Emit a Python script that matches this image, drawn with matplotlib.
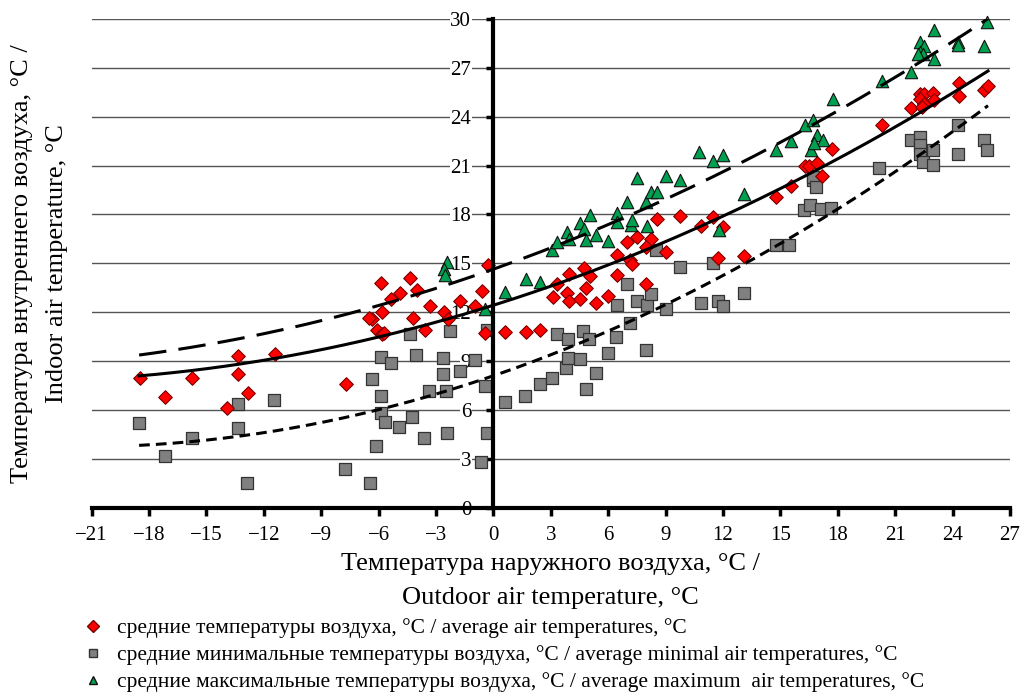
import numpy as np
import matplotlib
matplotlib.use("Agg")
import matplotlib.pyplot as plt
from matplotlib.lines import Line2D

# ---------------- data ----------------
avg_x = [-18.48, -17.17, -15.78, -13.33, -13.33, -12.81, -13.94, -11.41, -7.71, -5.86,
         -6.35, -6.50, -6.09, -5.83, -5.70, -5.83, -5.34, -4.90, -4.35, -4.00,
         -4.20, -3.60, -3.33, -2.60, -2.39, -1.73, -0.94, -0.59, -0.28, -0.42,
         0.58, 1.68, 2.42, 3.10, 3.33, 3.86, 3.94, 3.94, 4.50, 4.73,
         4.85, 5.03, 5.38, 6.00, 6.44, 6.44, 7.00, 7.14, 7.23, 7.52,
         7.99, 8.22, 7.99, 8.53, 9.04, 9.74, 10.84, 11.45, 12.02, 11.76,
         13.11, 14.76, 15.55, 16.28, 16.50, 16.90, 17.15, 17.70, 20.30, 21.80,
         22.27, 22.50, 22.32, 22.53, 22.39, 22.97, 23.02, 24.31, 24.31, 25.64,
         25.85]
avg_y = [7.93, 6.80, 7.93, 9.29, 8.19, 7.04, 6.12, 9.42, 7.56, 13.79,
         11.55, 11.65, 10.93, 10.64, 10.72, 12.01, 12.83, 13.18, 14.10, 13.34,
         11.61, 10.89, 12.38, 12.01, 11.55, 12.69, 12.36, 13.30, 14.88, 10.69,
         10.79, 10.79, 10.89, 12.93, 13.71, 13.18, 12.69, 14.31, 12.83, 14.71,
         13.45, 14.20, 12.53, 12.99, 15.53, 14.26, 16.31, 15.18, 14.98, 16.61,
         13.75, 16.51, 16.00, 17.74, 15.69, 17.88, 17.27, 17.84, 17.23, 15.35,
         15.43, 19.07, 19.72, 20.95, 21.00, 21.18, 20.34, 22.04, 23.51, 24.55,
         25.41, 25.41, 25.10, 24.80, 24.59, 25.45, 25.04, 26.06, 25.25, 25.66,
         25.86]

min_x = [-18.52, -17.17, -15.78, -13.37, -13.33, -12.86, -11.45, -7.75, -6.44, -6.35,
         -6.13, -5.86, -5.86, -5.86, -5.65, -5.34, -4.94, -4.38, -4.24, -4.03,
         -3.61, -3.39, -2.63, -2.63, -2.46, -2.42, -2.29, -1.73, -0.94, -0.45,
         -0.33, -0.33, -0.63, 0.58, 1.64, 2.42, 3.07, 3.30, 3.81, 3.91,
         3.91, 4.50, 4.70, 4.82, 4.99, 5.34, 6.00, 6.42, 6.44, 6.96,
         7.14, 7.52, 7.99, 8.01, 8.22, 8.48, 9.04, 9.74, 10.84, 11.74,
         12.02, 13.10, 11.45, 14.76, 15.46, 16.25, 16.56, 17.12, 17.64, 16.68,
         16.68, 16.86, 20.17, 21.80, 22.27, 22.27, 22.32, 22.44, 22.97, 22.97,
         24.28, 24.28, 25.64, 25.81]
min_y = [5.20, 3.16, 4.24, 6.35, 4.90, 1.52, 6.60, 2.34, 1.52, 7.87,
         3.77, 9.25, 6.84, 5.82, 5.27, 8.89, 4.92, 10.64, 5.57, 9.36,
         4.28, 7.17, 9.21, 8.19, 7.17, 4.59, 10.85, 8.37, 9.05, 7.47,
         10.93, 4.59, 2.81, 6.49, 6.84, 7.58, 7.93, 10.63, 8.54, 9.21,
         10.32, 9.15, 10.83, 7.27, 10.32, 8.27, 9.50, 10.48, 12.42, 13.75,
         11.30, 12.67, 9.66, 12.42, 13.14, 15.84, 12.16, 14.77, 12.53, 12.69,
         12.36, 13.18, 15.02, 16.15, 16.15, 18.25, 18.56, 18.36, 18.42, 20.09,
         20.30, 19.68, 20.87, 22.55, 22.75, 22.24, 21.73, 21.22, 21.98, 21.01,
         23.47, 21.73, 22.55, 21.98]

max_x = [-2.42, -2.60, -2.55, -0.42, 0.58, 1.68, 2.42, 3.07, 3.33, 3.86,
         3.94, 4.50, 4.73, 4.82, 5.03, 5.38, 6.00, 6.44, 6.44, 7.00,
         7.17, 7.26, 7.52, 8.01, 7.99, 8.22, 8.57, 9.04, 9.74, 10.75,
         11.45, 12.02, 13.11, 11.80, 14.76, 15.55, 16.28, 16.68, 16.91, 17.20,
         16.60, 16.74, 17.73, 20.30, 21.80, 22.27, 22.50, 22.32, 22.44, 22.21,
         23.02, 23.02, 24.28, 24.28, 25.64, 25.81]
max_y = [15.08, 14.67, 14.26, 12.16, 13.24, 14.06, 13.85, 15.84, 16.31, 16.92,
         16.51, 17.47, 17.13, 16.45, 17.94, 16.76, 16.37, 18.09, 17.53, 18.76,
         17.33, 17.68, 20.23, 17.27, 18.76, 19.37, 19.37, 20.34, 20.13, 21.83,
         21.26, 21.67, 19.28, 17.07, 21.93, 22.48, 23.51, 23.82, 22.85, 22.59,
         21.98, 22.38, 25.10, 26.17, 26.74, 28.58, 28.37, 27.96, 27.86, 27.86,
         27.56, 29.34, 28.58, 28.40, 28.37, 29.80]

x_ticks = list(range(-21, 28, 3))
y_ticks = list(range(0, 31, 3))

labels = ["средние температуры воздуха, °C / average air temperatures, °C",
          "средние минимальные температуры воздуха, °C / average minimal air temperatures, °C",
          "средние максимальные температуры воздуха, °C / average maximum  air temperatures, °C"]
xlabel = "Температура наружного воздуха, °C /\nOutdoor air temperature, °C"
ylabel = "Температура внутреннего воздуха, °C /\nIndoor air temperature, °C"

# ---------------- figure ----------------
plt.rcParams['font.family'] = ['Liberation Serif', 'DejaVu Serif']
fig = plt.figure(figsize=(10.23, 6.92), dpi=100)
ax = fig.add_axes([0.0896, 0.2666, 0.8977, 0.706])
ax.set_xlim(-21, 27)
ax.set_ylim(0, 30)

for s in ['top', 'right']:
    ax.spines[s].set_visible(False)
ax.spines['left'].set_position(('data', 0))
ax.spines['left'].set_linewidth(3)
ax.spines['bottom'].set_linewidth(3)
ax.spines['left'].set_zorder(5)
ax.spines['bottom'].set_zorder(5)

ax.set_xticks(x_ticks)
ax.set_yticks(y_ticks)
ax.tick_params(axis='x', direction='out', length=6, width=2.5, labelsize=15, pad=7)
ax.tick_params(axis='y', direction='out', length=5, width=2.5, labelsize=15, pad=11)
ax.yaxis.grid(True, color='#555555', linewidth=1)
ax.set_axisbelow(True)

mk_avg = dict(marker='D', s=48, facecolor='#FF0000', edgecolor='#7a0000', linewidths=0.8, zorder=3)
mk_min = dict(marker='s', s=70, facecolor='#808080', edgecolor='#333333', linewidths=0.9, zorder=3)
mk_max = dict(marker='^', s=80, facecolor='#00A050', edgecolor='#111111', linewidths=0.8, zorder=3)

ax.scatter(min_x, min_y, clip_on=False, **mk_min)
ax.scatter(avg_x, avg_y, clip_on=False, **mk_avg)
ax.scatter(max_x, max_y, clip_on=False, **mk_max)

# polynomial (2nd order) trend lines fitted to the data
all_x = np.array(avg_x + min_x + max_x)
xx = np.linspace(all_x.min(), all_x.max(), 200)
for xs, ys, style in [(avg_x, avg_y, dict(ls='-')),
                      (max_x, max_y, dict(ls=(0, (9, 4)))),
                      (min_x, min_y, dict(ls=(0, (3.5, 2))))]:
    c = np.polyfit(xs, ys, 2)
    ax.plot(xx, np.polyval(c, xx), color='black', lw=2.2, zorder=4, **style)

for lab in ax.get_yticklabels():
    lab.set_bbox(dict(facecolor='white', edgecolor='none', pad=0.5))

ax.set_xlabel(xlabel, fontsize=19, linespacing=1.7, labelpad=6)
ax.set_ylabel(ylabel, fontsize=19, linespacing=1.75)
ax.yaxis.set_label_coords(-0.026, 0.5)

handles = [Line2D([], [], ls='none', marker='D', markersize=6, markerfacecolor='#FF0000', markeredgecolor='#7a0000'),
           Line2D([], [], ls='none', marker='s', markersize=6, markerfacecolor='#808080', markeredgecolor='#333333'),
           Line2D([], [], ls='none', marker='^', markersize=6, markerfacecolor='#00A050', markeredgecolor='#111111')]
fig.legend(handles, labels, loc='upper left', bbox_to_anchor=(0.072, 0.119), frameon=False,
           fontsize=15.5, labelspacing=0.32, handlelength=1.0, handletextpad=0.6, borderaxespad=0)

fig.savefig('out.png', dpi=100)
